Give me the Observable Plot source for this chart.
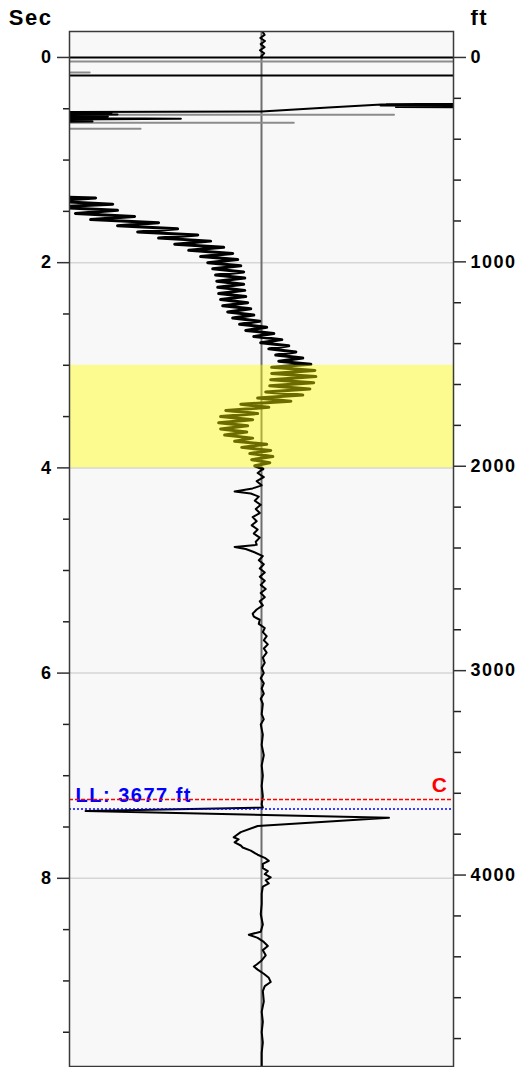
<!DOCTYPE html>
<html><head><meta charset="utf-8">
<script src="https://cdn.jsdelivr.net/npm/d3@7"></script>
<script src="https://cdn.jsdelivr.net/npm/@observablehq/plot@0.6"></script>
<style>
html,body{margin:0;padding:0;background:#fff;overflow:hidden;}
#wrap{position:relative;width:520px;height:1067px;overflow:hidden;}
#chart{margin-top:-10px;}
#chart svg{display:block;}
#topmask{position:absolute;left:0;top:0;width:520px;height:10px;background:#fff;}
</style></head><body><div id="wrap"><div id="chart"></div><div id="topmask"></div></div>
<script>
// ---- scales / ticks ----
const FT_PER_SEC = 502;
const secMajorTicks = [0, 2, 4, 6, 8];
const secMinorTicks = [0.5, 1, 1.5, 2.5, 3, 3.5, 4.5, 5, 5.5, 6.5, 7, 7.5, 8.5, 9, 9.5];
const ftMajorTicks = [0, 1000, 2000, 3000, 4000];
const ftMinorTicks = [200, 400, 600, 800, 1200, 1400, 1600, 1800, 2200, 2400, 2600, 2800, 3200, 3400, 3600, 3800, 4200, 4400, 4600, 4800];
const gridSec = [2, 4, 6, 8];
const bandStartSec = [3.0];
const bandEndSec = [4.0];
const markerNames = ["C", "LL"];
const markerFt = [3630, 3677];

// ---- trace pieces (sec, value) ----
const topSec = [-0.253, -0.22, -0.19, -0.16, -0.13, -0.10, -0.07, -0.04, -0.01, 0.0];
const topVal = [0.5, 1.6, -0.6, 1.8, -0.4, 1.6, -0.8, 1.4, -0.2, 0.3];
const zeroSweepSec = [0.0, 0.0];
const zeroSweepVal = [-150, 150];
const sweepSec = [0.175, 0.175];
const sweepVal = [-150, 150];
const burstASec = [0.536, 0.526, 0.487, 0.458, 0.448, 0.455, 0.462, 0.468, 0.475, 0.482, 0.49, 0.50];
const burstAVal = [-150, 0, 34.8, 62.5, 150, 65, 150, 62, 150, 70, 150, 150];
const burstBSec = [0.528, 0.536, 0.545, 0.555, 0.565, 0.575, 0.585, 0.597, 0.61, 0.625, 0.632];
const burstBVal = [-150, -78, -150, -75, -150, -80, -150, -42, -150, -88, -150];

const mainSec = [1.34, 1.37, 1.40, 1.43, 1.46, 1.49, 1.52, 1.55, 1.58, 1.61, 1.64, 1.67, 1.70, 1.73, 1.76, 1.79, 1.82, 1.85, 1.88, 1.91, 1.94, 1.97, 2.00,
  2.03, 2.06, 2.09, 2.12, 2.15, 2.18, 2.21, 2.24, 2.27, 2.30, 2.33, 2.36, 2.39, 2.42, 2.45, 2.48, 2.51, 2.54, 2.57, 2.60, 2.63, 2.66, 2.69, 2.72,
  2.75, 2.78, 2.81, 2.84, 2.87, 2.90, 2.93, 2.96, 2.99, 3.02, 3.05, 3.08, 3.11, 3.14, 3.17, 3.20, 3.23, 3.26, 3.29, 3.32, 3.35, 3.38, 3.41, 3.44,
  3.47, 3.50, 3.53, 3.56, 3.59, 3.62, 3.65, 3.68, 3.71, 3.74, 3.77, 3.80, 3.83, 3.86, 3.89, 3.92, 3.95, 3.98, 4.01,
  4.05, 4.09, 4.13, 4.17, 4.20, 4.23, 4.25, 4.28, 4.32, 4.36, 4.40, 4.44, 4.48, 4.52, 4.56, 4.60, 4.64, 4.68, 4.72, 4.75, 4.77, 4.79, 4.82, 4.86,
  4.90, 4.94, 4.98, 5.02, 5.06, 5.10, 5.14, 5.18, 5.22, 5.26, 5.30, 5.34, 5.38, 5.42, 5.45, 5.48, 5.52, 5.56, 5.60, 5.64, 5.68, 5.72, 5.76, 5.80,
  5.85, 5.90, 5.95, 6.00, 6.05, 6.10, 6.15, 6.20, 6.25, 6.30, 6.40, 6.45, 6.50, 6.60, 6.70, 6.80, 6.90, 7.00, 7.10, 7.20, 7.28, 7.31, 7.345, 7.41,
  7.49, 7.55, 7.60, 7.62, 7.65, 7.68, 7.70, 7.73, 7.77, 7.80, 7.83, 7.86, 7.90, 7.93, 7.96, 7.99, 8.02, 8.05, 8.08, 8.15, 8.25, 8.35, 8.45, 8.52,
  8.55, 8.58, 8.62, 8.66, 8.70, 8.75, 8.80, 8.84, 8.86, 8.89, 8.93, 8.97, 9.01, 9.05, 9.10, 9.20, 9.30, 9.40, 9.50, 9.60, 9.70, 9.84];
const mainVal = [-150, -86.4, -110, -77.5, -110, -75, -96.9, -66.1, -89, -53.6, -75, -43.7, -64.5, -33.2, -53.6, -26.5, -45.2, -19.7, -37.9, -15, -31.7, -12.4, -28.0,
  -10.8, -25.4, -9.3, -23.9, -8.7, -23.3, -9.3, -22.8, -8.7, -22.3, -8.2, -21.3, -7.2, -20.2, -5.6, -17.6, -4.0, -15.0, -0.9, -11.4, 2.7, -8.2, 6.4, -4.0,
  10.6, -0.4, 14.2, 3.8, 17.9, 7.4, 21.5, 9.0, 25.7, 5.3, 27.8, 5.3, 28.3, 4.8, 27.2, 4.3, 25.2, 2.2, 21.5, -2.0, 15.3, -10.8, 3.8, -18.6,
  -2.0, -21.3, -4.6, -22.3, -7.2, -21.3, -7.7, -19.2, -4.6, -14.0, 2.7, -10.3, 4.8, -6.1, 5.9, -5.1, 4.3, -3.5, 0.7,
  -2.0, 1.2, -2.5, 0.1, -4.6, -14.0, -5.6, -1.4, -3.5, -0.4, -3.0, -0.9, -4.6, -2.5, -5.1, -2.0, -4.0, -0.9, -3.0, -2.5, -14.0, -8.2, -4.0, 0.7,
  -1.4, 1.2, -0.9, 1.7, -0.9, 1.7, -0.4, 2.2, -0.4, 1.7, -0.9, 0.7, -2.5, -4.6, -4.0, -0.9, -1.4, 1.7, 0.7, 2.7, 1.2, 3.3, 1.2, 2.7,
  0.7, 1.7, 0.1, 1.2, -0.4, 1.2, 0.1, 1.2, -0.4, 0.7, 0.1, 1.2, -0.4, 0.7, 0.1, 1.2, 0.1, 0.7, 0.1, 0.7, 0.1, 0.7, -91.6, 66.4,
  -2.0, -10.8, -14.5, -11.9, -14.0, -10.8, -9.8, -5.6, -2.0, 1.7, 3.8, 0.7, 0.7, 3.3, 1.7, 4.8, 2.2, 3.8, 0.7, 0.1, 0.1, -0.4, 0.7, -0.4,
  -6.6, -2.0, 1.2, 3.3, 0.7, 2.2, 0.1, -2.5, -4.0, -2.0, 1.2, 3.8, 4.8, 1.7, 0.7, 1.2, 0.1, 0.7, 0.1, 0.7, 0.1, 0.1];

// lighter overlaid sweeps
const greyPart = ["g1", "g1", "g2", "g2", "g3", "g3", "g4", "g4", "g5", "g5"];
const greySec = [0.04, 0.04, 0.146, 0.146, 0.558, 0.558, 0.636, 0.636, 0.695, 0.695];
const greyVal = [-150, 150, -150, -89.5, -150, 69, -150, 16.8, -150, -63];

function rows(part, secs, vals) { return secs.map((s, i) => ({part, sec: s, val: vals[i]})); }
const blackRows = [
  ...rows("top", topSec, topVal),
  ...rows("zero", zeroSweepSec, zeroSweepVal),
  ...rows("sweep", sweepSec, sweepVal),
  ...rows("burstA", burstASec, burstAVal),
  ...rows("burstB", burstBSec, burstBVal)
];
const mainRows = rows("main", mainSec, mainVal);
const greyRows = greySec.map((s, i) => ({part: greyPart[i], sec: s, val: greyVal[i]}));
const markerRows = markerNames.map((n, i) => ({name: n, ft: markerFt[i], sec: markerFt[i] / FT_PER_SEC}));

const chart = Plot.plot({
  width: 520,
  height: 1080,
  marginTop: 41,
  marginBottom: 4,
  marginLeft: 69,
  marginRight: 67,
  style: {fontFamily: "'Liberation Sans', Arial, sans-serif", fontSize: "18px", fontWeight: "bold", letterSpacing: "1.5px", background: "#fff"},
  x: {domain: [-100, 100], axis: null, label: null},
  y: {domain: [-0.253, 9.834], reverse: true, label: null},
  marks: [
    Plot.frame({fill: "#f8f8f8", stroke: "none"}),
    Plot.ruleY(gridSec, {stroke: "#d6d6d6", strokeWidth: 1.5}),
    Plot.ruleX([0], {stroke: "#6e6e6e", strokeWidth: 2}),
    Plot.line(greyRows, {x: "val", y: "sec", z: "part", stroke: "#8c8c8c", strokeWidth: 2, clip: true}),
    Plot.line(blackRows, {x: "val", y: "sec", z: "part", stroke: "#000", strokeWidth: 2, clip: true}),
    Plot.line(mainRows, {filter: d => d.sec <= 4.01, x: "val", y: "sec", stroke: "#000", strokeWidth: 3, clip: true}),
    Plot.line(mainRows, {filter: d => d.sec >= 4.01, x: "val", y: "sec", stroke: "#000", strokeWidth: 2, clip: true}),
    Plot.rect(bandStartSec, {y1: d => d, y2: (d, i) => bandEndSec[i], fill: "#ffff00", fillOpacity: 0.42}),
    Plot.text([markerRows[1]], {y: "sec", text: d => `${d.name}: ${d.ft} ft`, frameAnchor: "left", dx: 6, dy: -7, textAnchor: "start", lineAnchor: "bottom", fill: "#0000ff", fontSize: 20}),
    Plot.text([markerRows[0]], {y: "sec", text: "name", frameAnchor: "right", dx: -5, dy: -7, textAnchor: "end", lineAnchor: "bottom", fill: "#ff0000", fontSize: 21}),
    Plot.ruleY([markerRows[0]], {y: "sec", stroke: "#ff0000", strokeWidth: 1.5, strokeDasharray: "4,2"}),
    Plot.ruleY([markerRows[1]], {y: "sec", stroke: "#0000ff", strokeWidth: 1.5, strokeDasharray: "2,2"}),
    Plot.axisY({anchor: "left", ticks: secMajorTicks, tickSize: 12, tickPadding: 5, stroke: "#333", strokeWidth: 1.5, label: null}),
    Plot.axisY({anchor: "left", ticks: secMinorTicks, tickSize: 6, tickFormat: () => "", stroke: "#222", strokeWidth: 1.5, label: null}),
    Plot.axisY({anchor: "right", ticks: ftMajorTicks.map(f => f / FT_PER_SEC), tickSize: 12, tickPadding: 5, tickFormat: d => String(Math.round(d * FT_PER_SEC)), stroke: "#333", strokeWidth: 1.5, label: null}),
    Plot.axisY({anchor: "right", ticks: ftMinorTicks.map(f => f / FT_PER_SEC), tickSize: 7, tickFormat: () => "", stroke: "#222", strokeWidth: 1.5, label: null}),
    Plot.text(["Sec"], {text: d => d, frameAnchor: "top-left", dx: -17, dy: -7, textAnchor: "end", lineAnchor: "bottom", fontSize: 22}),
    Plot.text(["ft"], {text: d => d, frameAnchor: "top-right", dx: 17, dy: -7, textAnchor: "start", lineAnchor: "bottom", fontSize: 22}),
    Plot.frame({stroke: "#3a3a3a", strokeWidth: 1.5})
  ]
});
document.getElementById("chart").appendChild(chart);
</script></body></html>
